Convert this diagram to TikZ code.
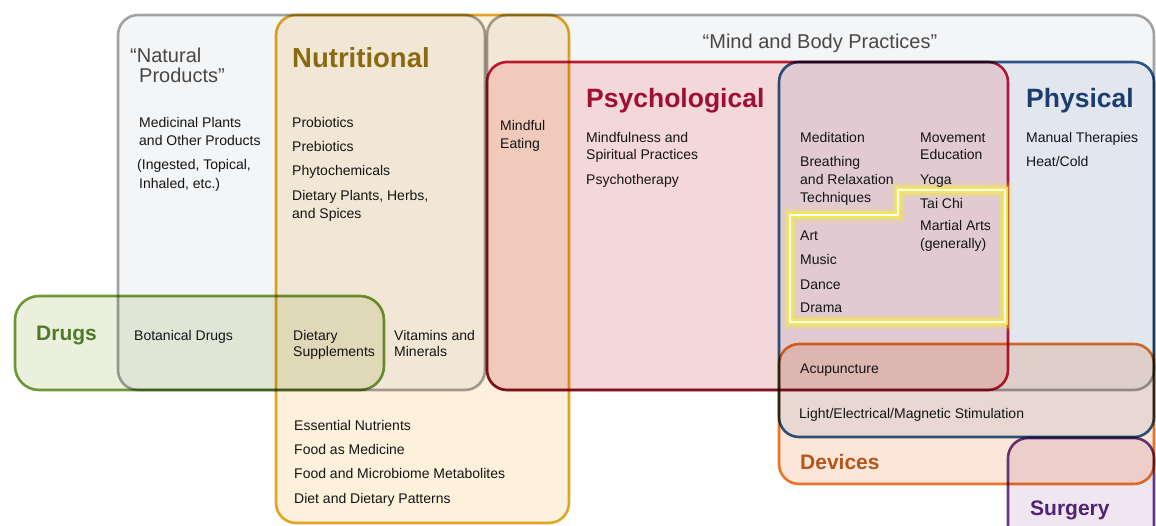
\documentclass[tikz,border=0pt]{standalone}
\usepackage{fontspec}
\setmainfont{Liberation Sans}
% outline colours
\definecolor{grayline}{HTML}{A6A6A6}
\definecolor{goldline}{HTML}{E2AA28}
\definecolor{redline}{HTML}{C41E3A}
\definecolor{blueline}{HTML}{2F5C8F}
\definecolor{orangeline}{HTML}{EC7A2B}
\definecolor{purpleline}{HTML}{6A3A8C}
\definecolor{greenline}{HTML}{6F9E3A}
% fill colours (combined by multiplication where areas overlap)
\definecolor{grayfill}{RGB}{244,245,247}
\definecolor{goldfill}{RGB}{253,241,220}
\definecolor{redfill}{RGB}{255,224,224}
\definecolor{bluefill}{RGB}{236,240,247}
\definecolor{orangefill}{RGB}{252,230,216}
\definecolor{purplefill}{RGB}{239,230,240}
\definecolor{greenfill}{RGB}{235,240,221}
% text colours
\definecolor{bodytext}{HTML}{141414}
\definecolor{graytitle}{HTML}{474747}
\definecolor{goldtitle}{HTML}{8A6A10}
\definecolor{redtitle}{HTML}{9E0F31}
\definecolor{bluetitle}{HTML}{1D3D6E}
\definecolor{greentitle}{HTML}{4E7A2A}
\definecolor{orangetitle}{HTML}{B5561C}
\definecolor{purpletitle}{HTML}{4F2472}
\definecolor{glow}{HTML}{F6E94A}
\begin{document}
\begin{tikzpicture}[x=1pt,y=-1pt,
  area/.style={line width=2.6pt, rounded corners=20pt},
  txt/.style={anchor=base west, inner sep=0pt, text=bodytext,
    font=\fontsize{14}{16}\selectfont},
  bigtitle/.style={anchor=base west, inner sep=0pt,
    font=\fontsize{26.5}{30}\selectfont\bfseries},
  midtitle/.style={anchor=base west, inner sep=0pt,
    font=\fontsize{21}{24}\selectfont\bfseries},
  quotetitle/.style={anchor=base west, inner sep=0pt, text=graytitle,
    font=\fontsize{20}{22}\selectfont},
  highlight/.style={line join=miter}]

\useasboundingbox (0,0) rectangle (1156,525);
\clip (0,0) rectangle (1156,525);

% overlapping domains
\begin{scope}[blend mode=multiply]
  \draw[area, draw=grayline, fill=grayfill] (118,15) rectangle (485,390);
  \draw[area, draw=grayline, fill=grayfill] (487,15) rectangle (1154,390);
  \draw[area, draw=goldline, fill=goldfill] (276,15) rectangle (569,523);
  \draw[area, draw=redline, fill=redfill] (487,62) rectangle (1008,390);
  \draw[area, draw=blueline, fill=bluefill] (779,62) rectangle (1154,437);
  \draw[area, draw=orangeline, fill=orangefill] (779,344) rectangle (1154,484);
  \draw[area, draw=purpleline, fill=purplefill] (1008,438) rectangle (1154,560);
  \draw[area, draw=greenline, fill=greenfill, rounded corners=24pt] (15,296) rectangle (384,390);
\end{scope}

% highlighted group of arts and movement practices
\begin{scope}[highlight]
  \draw[glow, line width=16pt, opacity=0.12] (790,215) -- (898,215) -- (898,190) -- (1005,190) -- (1005,322) -- (790,322) -- cycle;
  \draw[glow, line width=11pt, opacity=0.3] (790,215) -- (898,215) -- (898,190) -- (1005,190) -- (1005,322) -- (790,322) -- cycle;
  \draw[glow, line width=6pt, opacity=0.9] (790,215) -- (898,215) -- (898,190) -- (1005,190) -- (1005,322) -- (790,322) -- cycle;
  \draw[white, line width=1.1pt] (790,215) -- (898,215) -- (898,190) -- (1005,190) -- (1005,322) -- (790,322) -- cycle;
\end{scope}

% titles
\node[quotetitle] (natA) at (130,62) {“Natural};
\node[quotetitle] (natB) at (139,82) {Products”};
\node[quotetitle, anchor=base] (mindbody) at (820,48) {“Mind and Body Practices”};
\node[bigtitle, text=goldtitle, font=\fontsize{27.5}{30}\selectfont\bfseries] (nutri) at (292,67) {Nutritional};
\node[bigtitle, text=redtitle] (psych) at (586,107) {Psychological};
\node[bigtitle, text=bluetitle] (phys) at (1026,107) {Physical};
\node[midtitle, text=greentitle] (drugs) at (36,340) {Drugs};
\node[midtitle, text=orangetitle] (devices) at (800,469) {Devices};
\node[midtitle, text=purpletitle] (surgery) at (1030,515) {Surgery};

% natural products
\node[txt] (n1) at (139,127) {Medicinal Plants};
\node[txt] (n2) at (139,145) {and Other Products};
\node[txt] (n3) at (137,169) {(Ingested, Topical,};
\node[txt] (n4) at (139,188) {Inhaled, etc.)};

% nutritional
\node[txt] (u1) at (292,127) {Probiotics};
\node[txt] (u2) at (292,151) {Prebiotics};
\node[txt] (u3) at (292,175) {Phytochemicals};
\node[txt] (u4) at (292,200) {Dietary Plants, Herbs,};
\node[txt] (u5) at (292,218) {and Spices};
\node[txt] (u6) at (294,430) {Essential Nutrients};
\node[txt] (u7) at (294,454) {Food as Medicine};
\node[txt] (u8) at (294,478) {Food and Microbiome Metabolites};
\node[txt] (u9) at (294,503) {Diet and Dietary Patterns};

% mindful eating
\node[txt] (m1) at (500,130) {Mindful};
\node[txt] (m2) at (500,148) {Eating};

% psychological
\node[txt] (p1) at (586,142) {Mindfulness and};
\node[txt] (p2) at (586,159) {Spiritual Practices};
\node[txt] (p3) at (586,184) {Psychotherapy};

% psychological and physical
\node[txt] (b1) at (800,142) {Meditation};
\node[txt] (b2) at (800,166) {Breathing};
\node[txt] (b3) at (800,184) {and Relaxation};
\node[txt] (b4) at (800,202) {Techniques};
\node[txt] (b5) at (920,142) {Movement};
\node[txt] (b6) at (920,159) {Education};
\node[txt] (b7) at (920,184) {Yoga};
\node[txt] (b8) at (920,208) {Tai Chi};
\node[txt] (b9) at (920,230) {Martial Arts};
\node[txt] (b10) at (920,248) {(generally)};
\node[txt] (a1) at (800,240) {Art};
\node[txt] (a2) at (800,264) {Music};
\node[txt] (a3) at (800,289) {Dance};
\node[txt] (a4) at (800,312) {Drama};

% physical
\node[txt] (h1) at (1026,142) {Manual Therapies};
\node[txt] (h2) at (1026,166) {Heat/Cold};

% drugs row
\node[txt] (d1) at (134,340) {Botanical Drugs};
\node[txt] (d2) at (293,340) {Dietary};
\node[txt] (d3) at (293,356) {Supplements};
\node[txt] (d4) at (394,340) {Vitamins and};
\node[txt] (d5) at (394,356) {Minerals};

% devices
\node[txt] (v1) at (800,373) {Acupuncture};
\node[txt] (v2) at (799,418) {Light/Electrical/Magnetic Stimulation};
\end{tikzpicture}
\end{document}
